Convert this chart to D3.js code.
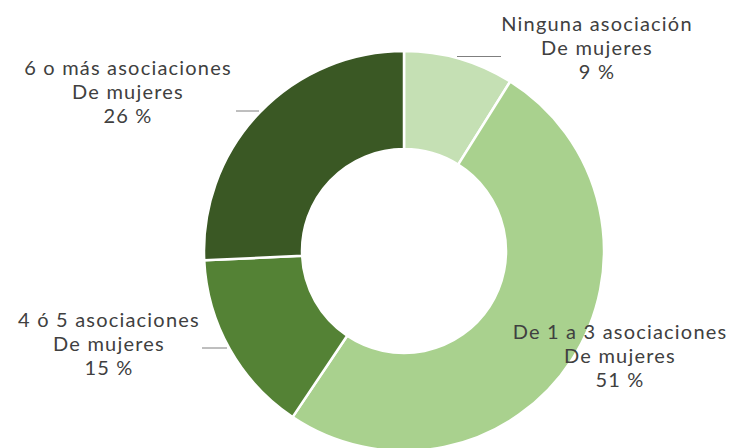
<!DOCTYPE html>
<html>
<head>
<meta charset="utf-8">
<script src="https://cdn.jsdelivr.net/npm/d3@7"></script>
<style>
  html, body { margin: 0; padding: 0; background: #ffffff; }
  svg { display: block; }
  text { font-family: Lato, "Open Sans", sans-serif; fill: #404040; }
</style>
</head>
<body>
<svg id="chart" width="733" height="448"></svg>
<script>
// Number of women's associations per respondent
const categories = [
  "Ninguna asociación",
  "De 1 a 3 asociaciones",
  "4 ó 5 asociaciones",
  "6 o más asociaciones"
];
const subtitle = "De mujeres";
const values = [9, 51, 15, 26];
const colors = ["#C5E0B4", "#A9D18E", "#548235", "#3A5824"];

// Label placement: centre of the text block and optional leader line
const labelLayout = [
  { x: 597, y: 31,  leader: [457, 501, 56.5] },
  { x: 620, y: 339, leader: null },
  { x: 109, y: 327, leader: [202, 227, 348] },
  { x: 128, y: 75,  leader: [236, 259, 111] }
];

const width = 733, height = 448;
const cx = 404, cy = 251;
const outerR = 200, innerR = 102;
const lineStep = 24;

const svg = d3.select("#chart");
const g = svg.append("g").attr("transform", `translate(${cx},${cy})`);

const pie = d3.pie().sort(null).value(d => d);
const arc = d3.arc().innerRadius(innerR).outerRadius(outerR);

g.selectAll("path.slice")
  .data(pie(values))
  .join("path")
  .attr("class", "slice")
  .attr("d", arc)
  .attr("fill", (d, i) => colors[i])
  .attr("stroke", "#ffffff")
  .attr("stroke-width", 2.5)
  .attr("stroke-linejoin", "round");

// Leader lines
const leaders = svg.append("g");
labelLayout.forEach(l => {
  if (!l.leader) return;
  leaders.append("line")
    .attr("x1", l.leader[0]).attr("x2", l.leader[1])
    .attr("y1", l.leader[2]).attr("y2", l.leader[2])
    .attr("stroke", "#7f7f7f")
    .attr("stroke-width", 1);
});

// Data labels
const labels = svg.append("g")
  .attr("font-size", 20)
  .attr("letter-spacing", 1.2)
  .attr("text-anchor", "middle");
categories.forEach((c, i) => {
  const l = labelLayout[i];
  const t = labels.append("text").attr("x", l.x).attr("y", l.y);
  [c, subtitle, `${values[i]} %`].forEach((line, k) => {
    t.append("tspan").attr("x", l.x).attr("y", l.y + k * lineStep).text(line);
  });
});
</script>
</body>
</html>
